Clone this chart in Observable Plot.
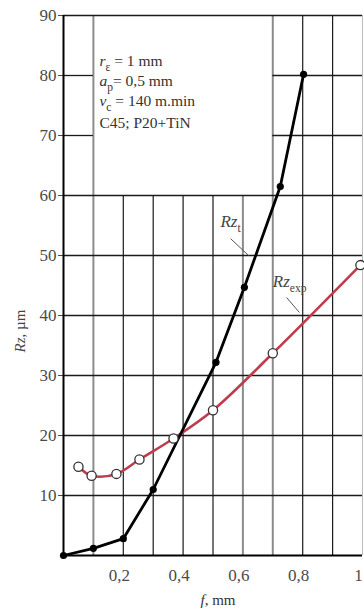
<!DOCTYPE html>
<html><head><meta charset="utf-8">
<script src="https://cdn.jsdelivr.net/npm/d3@7"></script>
<script src="https://cdn.jsdelivr.net/npm/@observablehq/plot@0.6"></script>
<style>html,body{margin:0;padding:0;background:#fff}</style>
</head><body><div id="chart"></div>
<script>
// Rz_t (theoretical) – filled dots
const fT  = [0, 0.1, 0.2, 0.3, 0.51, 0.605, 0.725, 0.803];
const rzT = [0, 1.2, 2.8, 11.0, 32.2, 44.7, 61.5, 80.2];
// Rz_exp (experimental) – open circles
const fE  = [0.05, 0.094, 0.177, 0.254, 0.368, 0.50, 0.70, 0.993];
const rzE = [14.8, 13.3, 13.6, 16.0, 19.5, 24.2, 33.7, 48.4];
// ticks and grid
const xTicks = [0.2, 0.4, 0.6, 0.8, 1];
const yTicks = [10, 20, 30, 40, 50, 60, 70, 80, 90];
const gridYFull = [10, 20, 30, 40, 50, 60, 90];
const gridYSplit = [70, 80];
const gridXTall = [0.1, 0.7, 0.8, 0.9];
const gridXShort = [0.2, 0.3, 0.4, 0.5, 0.6];
const grayGridX = [0.1, 0.6, 0.7];
// texts
const boxLines = ["*r*_{ε} = 1 mm", "*a*_{p}= 0,5 mm", "*v*_{c} = 140 m.min", "C45; P20+TiN"];
const boxY = [81.6, 78.2, 74.9, 71.3];
const boxX = 0.12;
const seriesLabels = ["*Rz*_{t}", "*Rz*_{exp}"];
const labelX = [0.525, 0.70];
const labelY = [54.8, 44.7];
const leaderX1 = [0.559, 0.746], leaderY1 = [52.8, 43.0];
const leaderX2 = [0.619, 0.789], leaderY2 = [50.0, 40.5];
const xLabel = "*f*, mm";
const yLabel = "*Rz*, µm";

const tData = fT.map((f, i) => ({f, rz: rzT[i]}));
const eData = fE.map((f, i) => ({f, rz: rzE[i]}));
const box = boxLines.map((t, i) => ({t, y: boxY[i]}));
const labs = seriesLabels.map((t, i) => ({t, x: labelX[i], y: labelY[i]}));
const leaders = leaderX1.map((x1, i) => ({x1, y1: leaderY1[i], x2: leaderX2[i], y2: leaderY2[i]}));
const vTall = gridXTall.map(x => ({x, y1: 0, y2: 90}));
const vShort = gridXShort.map(x => ({x, y1: 0, y2: 60}));
const vGrid = vTall.concat(vShort);
const hGrid = gridYFull.map(y => ({y, x1: 0, x2: 1}))
  .concat(gridYSplit.flatMap(y => [{y, x1: 0, x2: 0.1}, {y, x1: 0.7, x2: 1}]));

const plot = Plot.plot({
  width: 364, height: 614,
  marginLeft: 63, marginRight: 2, marginTop: 15, marginBottom: 59,
  style: {fontFamily: "'Liberation Serif', 'Times New Roman', serif", fontSize: "17px", background: "#fff", color: "#4a4a4a"},
  x: {domain: [0, 1], axis: null},
  y: {domain: [0, 90], ticks: yTicks, tickSize: 5, tickPadding: 2, label: null},
  marks: [
    Plot.ruleX([1], {y1: 0, y2: 90, stroke: "#bbb", strokeWidth: 1}),
    Plot.ruleX(vGrid.filter(d => !grayGridX.includes(d.x)), {x: "x", y1: "y1", y2: "y2", stroke: "#1a1a1a", strokeWidth: 1.2}),
    Plot.ruleX(vGrid.filter(d => grayGridX.includes(d.x)), {x: "x", y1: "y1", y2: "y2", stroke: "#8c8c8c", strokeWidth: 2}),
    Plot.ruleY(hGrid, {y: "y", x1: "x1", x2: "x2", stroke: "#1a1a1a", strokeWidth: 1.3}),
    Plot.ruleX([0], {y1: 0, y2: 90, stroke: "#000", strokeWidth: 2}),
    Plot.ruleY([0], {x1: 0, x2: 1, stroke: "#000", strokeWidth: 2}),
    Plot.text(xTicks, {x: d => d, text: d => String(d).replace(".", ","), frameAnchor: "bottom", dy: 25, dx: -4, fontSize: 17, fill: "#4a4a4a"}),
    Plot.link(leaders, {x1: "x1", y1: "y1", x2: "x2", y2: "y2", stroke: "#555", strokeWidth: 1}),
    Plot.line(eData, {x: "f", y: "rz", stroke: "#bd3d4c", strokeWidth: 2.6, curve: "catmull-rom"}),
    Plot.line(tData, {x: "f", y: "rz", stroke: "#000", strokeWidth: 2.8}),
    Plot.dot(tData, {x: "f", y: "rz", fill: "#000", r: 3.6}),
    Plot.dot(eData, {x: "f", y: "rz", fill: "#fff", stroke: "#333", strokeWidth: 1.3, r: 4.6}),
    Plot.text(box, {x: boxX, y: "y", text: "t", textAnchor: "start", lineAnchor: "bottom", fontSize: 15.5, fill: "#333"}),
    Plot.text(labs, {x: "x", y: "y", text: "t", textAnchor: "start", lineAnchor: "bottom", fontSize: 17, fill: "#444"}),
    Plot.text([yLabel], {text: d => d, frameAnchor: "left", dx: -43, dy: 67, rotate: -90, fontSize: 15, fill: "#444"}),
    Plot.text([xLabel], {text: d => d, frameAnchor: "bottom", dx: 5, dy: 49, fontSize: 15, fill: "#333"})
  ]
});

// turn *italic* and _{sub} markup into tspans
d3.select(plot).selectAll("text").each(function() {
  const s = this.textContent;
  if (!/\*|_\{/.test(s)) return;
  const fs = parseFloat(getComputedStyle(this).fontSize) || 16;
  const shift = fs * 0.3;
  const el = d3.select(this);
  el.text(null);
  const re = /\*([^*]+)\*|_\{([^}]+)\}|([^*_]+)/g;
  let m, lowered = false;
  while ((m = re.exec(s))) {
    const ts = el.append("tspan");
    if (m[1] !== undefined) {
      ts.text(m[1]).attr("font-style", "italic");
      if (lowered) { ts.attr("dy", -shift); lowered = false; }
    } else if (m[2] !== undefined) {
      ts.text(m[2]).attr("font-size", fs * 0.72).attr("dy", shift);
      lowered = true;
    } else {
      ts.text(m[3]);
      if (lowered) { ts.attr("dy", -shift); lowered = false; }
    }
  }
});

document.getElementById("chart").appendChild(plot);
</script>
</body></html>
